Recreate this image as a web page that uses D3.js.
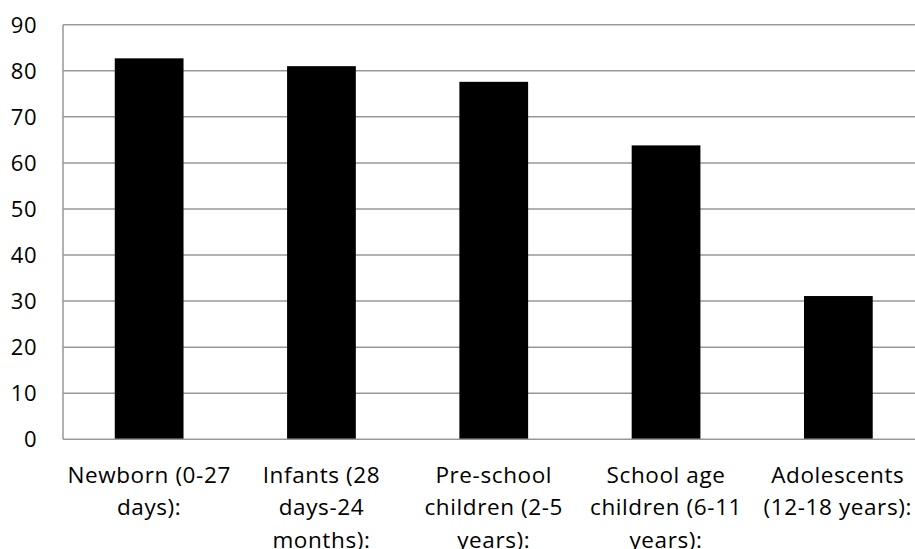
<!DOCTYPE html>
<html>
<head>
<meta charset="utf-8">
<script src="https://cdn.jsdelivr.net/npm/d3@7"></script>
<style>
  html, body { margin: 0; padding: 0; background: #fff; }
  svg { display: block; }
  text { font-family: "Open Sans", Lato, sans-serif; fill: #000; }
</style>
</head>
<body>
<svg id="chart" width="915" height="549"></svg>
<script>
// Age groups (label lines as they wrap under each bar)
const categories = [
  ["Newborn (0-27", "days):"],
  ["Infants (28", "days-24", "months):"],
  ["Pre-school", "children (2-5", "years):"],
  ["School age", "children (6-11", "years):"],
  ["Adolescents", "(12-18 years):"]
];
const values = [82.7, 81.0, 77.6, 63.8, 31.1];
const yTicks = [0, 10, 20, 30, 40, 50, 60, 70, 80, 90];

const svg = d3.select("#chart");
const width = 915;
const plot = { left: 63, right: 924.5, top: 24.7, bottom: 439.3 };
const gridColor = "#979797";
const fontSize = 22.5;

const x = d3.scaleBand()
  .domain(d3.range(categories.length))
  .range([plot.left, plot.right])
  .paddingInner(0.601)
  .paddingOuter(0.3005);

const y = d3.scaleLinear().domain([0, 90]).range([plot.bottom, plot.top]);

// horizontal gridlines
svg.append("g")
  .selectAll("line")
  .data(yTicks.filter(d => d > 0))
  .join("line")
  .attr("x1", plot.left).attr("x2", plot.right)
  .attr("y1", d => y(d)).attr("y2", d => y(d))
  .attr("stroke", gridColor)
  .attr("stroke-width", 1.5);

// bars
svg.append("g")
  .selectAll("rect")
  .data(values)
  .join("rect")
  .attr("x", (d, i) => x(i))
  .attr("width", x.bandwidth())
  .attr("y", d => y(d))
  .attr("height", d => y(0) - y(d))
  .attr("fill", "#000");

// value axis line and baseline
svg.append("line")
  .attr("x1", plot.left).attr("x2", plot.left)
  .attr("y1", y(90)).attr("y2", y(0))
  .attr("stroke", gridColor).attr("stroke-width", 1.5);
svg.append("line")
  .attr("x1", plot.left).attr("x2", plot.right)
  .attr("y1", y(0)).attr("y2", y(0))
  .attr("stroke", gridColor).attr("stroke-width", 1.5);

// y tick labels
svg.append("g")
  .selectAll("text")
  .data(yTicks)
  .join("text")
  .attr("x", 37)
  .attr("y", d => y(d))
  .attr("dy", "0.36em")
  .attr("text-anchor", "end")
  .attr("font-size", 22)
  .attr("letter-spacing", 0.5)
  .text(d => d);

// category labels, kept inside the right edge of the canvas
const labels = svg.append("g")
  .selectAll("text")
  .data(categories)
  .join("text")
  .attr("text-anchor", "middle")
  .attr("font-size", fontSize)
  .attr("letter-spacing", 0.6)
  .attr("y", 482.5);
labels.each(function (d, i) {
  const t = d3.select(this);
  const cx = x(i) + x.bandwidth() / 2;
  t.selectAll("tspan")
    .data(d)
    .join("tspan")
    .attr("dy", (s, j) => j === 0 ? 0 : 32.5)
    .text(s => s);
  const widest = d3.max(t.selectAll("tspan").nodes(), n => n.getComputedTextLength());
  const shift = Math.min(0, (width - 3) - (cx + widest / 2));
  t.selectAll("tspan").attr("x", cx + shift);
});
</script>
</body>
</html>
